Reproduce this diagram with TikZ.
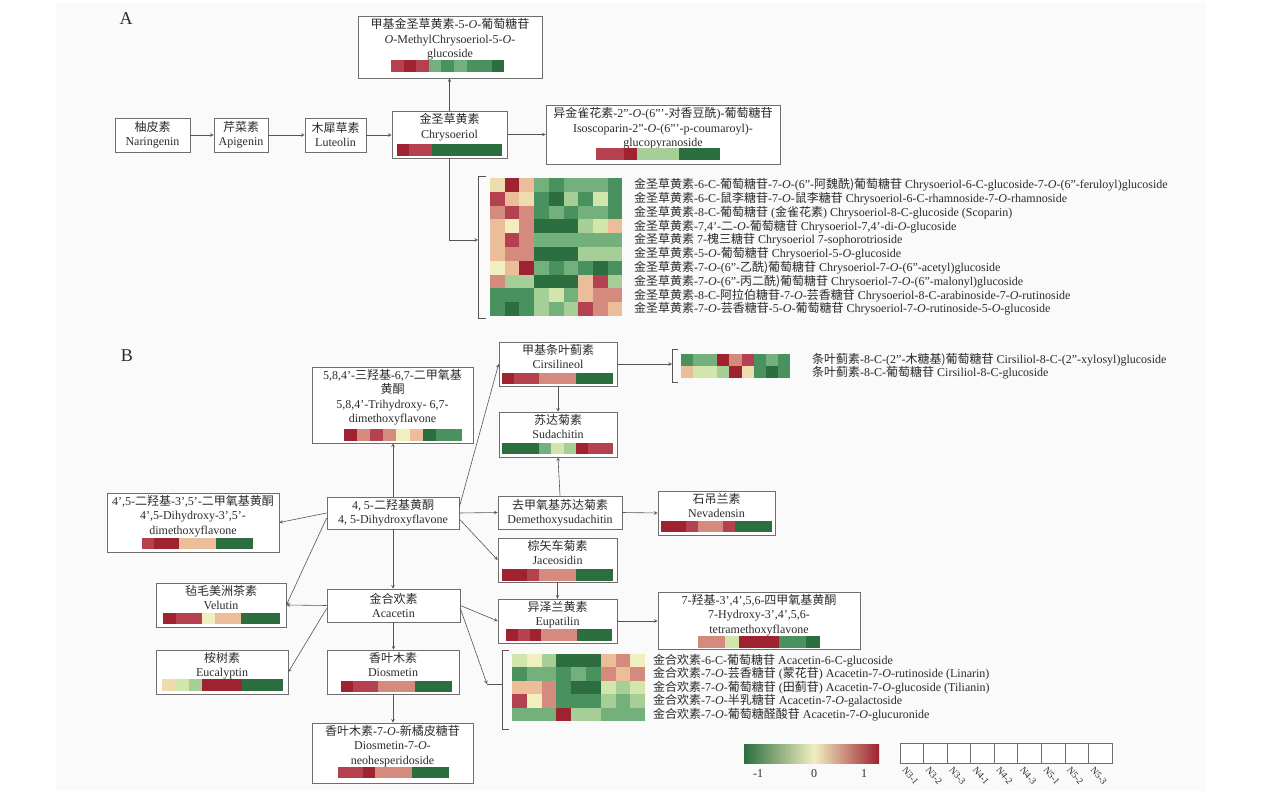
\documentclass[tikz,border=0pt]{standalone}
\usepackage{fontspec}
\setmainfont{Liberation Serif}
\newfontfamily\cjk{Noto Sans CJK SC}
\usetikzlibrary{arrows}

\newcommand{\zh}[1]{{\cjk #1}}
\newcommand{\io}{\textit{O}}

% heat map colours
\definecolor{R3}{HTML}{9E2230}
\definecolor{R2}{HTML}{B5404F}
\definecolor{R1}{HTML}{D58A7E}
\definecolor{R0}{HTML}{EBBD98}
\definecolor{P}{HTML}{EFDCAE}
\definecolor{Y}{HTML}{F1EEC0}
\definecolor{G0}{HTML}{D2E6AC}
\definecolor{G1}{HTML}{A6CF98}
\definecolor{G2}{HTML}{74B07C}
\definecolor{G3}{HTML}{4A9160}
\definecolor{G4}{HTML}{2D6E40}
\definecolor{panelbg}{HTML}{FAFAFA}
\definecolor{boxgray}{HTML}{6E6E6E}
\definecolor{linegray}{HTML}{555555}
\definecolor{txtgray}{HTML}{2B2B2B}

% one row of coloured cells: x, y, cell width, cell height, colours
\newcommand{\cellbar}[5]{%
  \foreach \cl [count=\i from 0] in {#5}
    \fill[\cl] ({#1+\i*#3},#2) rectangle ++(#3,#4);}
% compound box, text centred
\newcommand{\cpdbox}[6]{%
  \node[box, minimum width={#4-#2}, minimum height={#5-#3}] (#1)
    at ({(#2+#4)/2},{(#3+#5)/2}) {#6};}
% compound box, text on top and a bar below
\newcommand{\barbox}[6]{%
  \node[box, minimum width={#4-#2}, minimum height={#5-#3}] (#1)
    at ({(#2+#4)/2},{(#3+#5)/2}) {};
  \node[boxtext, anchor=north] (#1-t) at ([yshift=-1.5pt]#1.north) {#6};}

\begin{document}
\begin{tikzpicture}[
    x=1pt, y=-1pt,
    box/.style={draw=boxgray, line width=0.7pt, fill=white, inner sep=0pt,
      align=center, text=txtgray, font=\fontsize{12}{14}\selectfont},
    boxtext/.style={align=center, inner sep=1pt, text=txtgray,
      font=\fontsize{12}{14.5}\selectfont},
    hmlabel/.style={anchor=west, inner sep=0pt, text=txtgray,
      font=\fontsize{12}{13}\selectfont},
    panel/.style={font=\fontsize{18}{18}\selectfont, text=txtgray},
    flow/.style={draw=linegray, line width=0.6pt, ->},
    bracket/.style={draw=linegray, line width=0.6pt},
    >=stealth
  ]
  \useasboundingbox (0,0) rectangle (1283,791);
  \fill[white] (0,0) rectangle (1283,791);
  \fill[panelbg] (56,3) rectangle (1206,791);

  %% ---------------- A ----------------
  \node[panel] (lblA) at (126,19) {A};

  \cpdbox{nar}{115}{118}{190}{152}{\zh{柚皮素}\\Naringenin}
  \cpdbox{api}{214}{118}{268}{152}{\zh{芹菜素}\\Apigenin}
  \cpdbox{lut}{305}{118}{366}{152}{\zh{木犀草素}\\Luteolin}
  \barbox{chry}{392}{111}{507}{158}{\zh{金圣草黄素}\\Chrysoeriol}
  \cellbar{397}{144}{11.7}{12}{R3,R2,R2,G4,G4,G4,G4,G4,G4}
  \barbox{mchry}{358}{16}{542}{78}{\zh{甲基金圣草黄素}-5-\io-\zh{葡萄糖苷}\\\io-MethylChrysoeriol-5-\io-\\glucoside}
  \cellbar{391}{60}{12.6}{12}{R2,R3,R2,G2,G3,G2,G3,G3,G4}
  \barbox{iso}{546}{105}{780}{164}{\zh{异金雀花素}-2"-\io-(6'''-\zh{对香豆酰})-\zh{葡萄糖苷}\\Isoscoparin-2"-\io-(6'''-p-coumaroyl)-\\glucopyranoside}
  \cellbar{596}{148}{13.8}{12}{R2,R2,R3,G1,G1,G1,G4,G4,G4}

  % chrysoeriol glycosides
  \cellbar{490}{178}{14.7}{13.8}{P,R3,R0,G2,G3,G2,G2,G2,G3}
  \cellbar{490}{191.8}{14.7}{13.8}{R2,R0,P,G3,G4,G1,G3,G0,G3}
  \cellbar{490}{205.6}{14.7}{13.8}{R1,R2,R1,G3,G2,G3,G2,G2,G3}
  \cellbar{490}{219.4}{14.7}{13.8}{R0,Y,R1,G4,G4,G4,G1,G0,R0}
  \cellbar{490}{233.2}{14.7}{13.8}{R0,R2,R1,G2,G2,G2,G2,G2,G2}
  \cellbar{490}{247}{14.7}{13.8}{R0,R1,R1,G4,G4,G4,G1,G1,G1}
  \cellbar{490}{260.8}{14.7}{13.8}{Y,R0,R3,G2,G3,G2,G3,G4,G3}
  \cellbar{490}{274.6}{14.7}{13.8}{R1,G1,G1,G4,G4,G4,R0,R2,G1}
  \cellbar{490}{288.4}{14.7}{13.8}{G3,G3,G3,G1,G0,G2,R0,R1,R1}
  \cellbar{490}{302.2}{14.7}{13.8}{G3,G4,G3,G1,G2,G1,R2,R1,R0}
  \foreach \t [count=\i from 0] in {
      {\zh{金圣草黄素}-6-C-\zh{葡萄糖苷}-7-\io-(6"-\zh{阿魏酰)葡萄糖苷} Chrysoeriol-6-C-glucoside-7-\io-(6"-feruloyl)glucoside},
      {\zh{金圣草黄素}-6-C-\zh{鼠李糖苷}-7-\io-\zh{鼠李糖苷} Chrysoeriol-6-C-rhamnoside-7-\io-rhamnoside},
      {\zh{金圣草黄素}-8-C-\zh{葡萄糖苷} (\zh{金雀花素}) Chrysoeriol-8-C-glucoside (Scoparin)},
      {\zh{金圣草黄素}-7,4'-\zh{二}-\io-\zh{葡萄糖苷} Chrysoeriol-7,4'-di-\io-glucoside},
      {\zh{金圣草黄素} 7-\zh{槐三糖苷} Chrysoeriol 7-sophorotrioside},
      {\zh{金圣草黄素}-5-\io-\zh{葡萄糖苷} Chrysoeriol-5-\io-glucoside},
      {\zh{金圣草黄素}-7-\io-(6"-\zh{乙酰)葡萄糖苷} Chrysoeriol-7-\io-(6"-acetyl)glucoside},
      {\zh{金圣草黄素}-7-\io-(6"-\zh{丙二酰)葡萄糖苷} Chrysoeriol-7-\io-(6"-malonyl)glucoside},
      {\zh{金圣草黄素}-8-C-\zh{阿拉伯糖苷}-7-\io-\zh{芸香糖苷} Chrysoeriol-8-C-arabinoside-7-\io-rutinoside},
      {\zh{金圣草黄素}-7-\io-\zh{芸香糖苷}-5-\io-\zh{葡萄糖苷} Chrysoeriol-7-\io-rutinoside-5-\io-glucoside}}
    \node[hmlabel] (la\i) at (634,{184.9+\i*13.8}) {\t};
  \draw[bracket] (486,176) -- (478,176) -- (478,318) -- (486,318);
  \coordinate (brA) at (478,240);

  \draw[flow] (nar) -- (api);
  \draw[flow] (api) -- (lut);
  \draw[flow] (lut.east) -- (lut.east -| chry.west);
  \draw[flow] (chry.east) -- (chry.east -| iso.west);
  \draw[flow] (chry.north) -- (chry.north |- mchry.south);
  \draw[flow] (chry.south) |- (brA);

  %% ---------------- B ----------------
  \node[panel] (lblB) at (127,356) {B};

  \cpdbox{dhf}{327}{497}{459}{529}{4, 5-\zh{二羟基黄酮}\\4, 5-Dihydroxyflavone}
  \cpdbox{aca}{327}{589}{460}{622}{\zh{金合欢素}\\Acacetin}
  \cpdbox{dms}{498}{496}{622}{529}{\zh{去甲氧基苏达菊素}\\Demethoxysudachitin}

  \barbox{tri}{312}{367}{473}{443}{5,8,4'-\zh{三羟基}-6,7-\zh{二甲氧基}\\\zh{黄酮}\\5,8,4'-Trihydroxy- 6,7-\\dimethoxyflavone}
  \cellbar{344}{429}{13.1}{12}{R3,R1,R2,R1,Y,R0,G4,G3,G3}
  \barbox{dih}{107}{493}{279}{552}{4',5-\zh{二羟基}-3',5'-\zh{二甲氧基黄酮}\\4',5-Dihydroxy-3',5'-\\dimethoxyflavone}
  \cellbar{142}{538}{12.3}{11}{R2,R3,R3,R0,R0,R0,G4,G4,G4}
  \barbox{vel}{156}{583}{286}{627}{\zh{毡毛美洲茶素}\\Velutin}
  \cellbar{163}{613}{13}{11}{R3,R2,R2,Y,R0,R0,G4,G4,G4}
  \barbox{euc}{156}{650}{288}{694}{\zh{桉树素}\\Eucalyptin}
  \cellbar{162}{679}{13.4}{12}{P,G0,G1,R3,R3,R3,G4,G4,G4}
  \barbox{dio}{327}{650}{459}{694}{\zh{香叶木素}\\Diosmetin}
  \cellbar{341}{681}{12.3}{11}{R3,R2,R2,R1,R1,R1,G4,G4,G4}
  \barbox{neo}{312}{723}{473}{783}{\zh{香叶木素}-7-\io-\zh{新橘皮糖苷}\\Diosmetin-7-\io-\\neohesperidoside}
  \cellbar{338}{767}{12.3}{11}{R2,R2,R3,R1,R1,R1,G4,G4,G4}
  \barbox{cir}{499}{342}{617}{386}{\zh{甲基条叶蓟素}\\Cirsilineol}
  \cellbar{502}{373}{12.3}{11}{R3,R2,R2,R1,R1,R1,G4,G4,G4}
  \barbox{sud}{499}{412}{617}{457}{\zh{苏达菊素}\\Sudachitin}
  \cellbar{502}{443}{12.3}{11}{G4,G4,G4,G2,G0,G1,R3,R2,R2}
  \barbox{nev}{658}{491}{775}{535}{\zh{石吊兰素}\\Nevadensin}
  \cellbar{661}{521}{12.3}{11}{R3,R3,R2,R1,R1,R2,G4,G4,G4}
  \barbox{jac}{498}{538}{617}{582}{\zh{棕矢车菊素}\\Jaceosidin}
  \cellbar{502}{569}{12.3}{12}{R3,R3,R2,R1,R1,R1,G4,G4,G4}
  \barbox{eup}{498}{599}{617}{643}{\zh{异泽兰黄素}\\Eupatilin}
  \cellbar{506}{629}{11.8}{12}{R3,R2,R3,R1,R1,R1,G4,G4,G4}
  \barbox{thm}{658}{592}{860}{649}{7-\zh{羟基}-3',4',5,6-\zh{四甲氧基黄酮}\\7-Hydroxy-3',4',5,6-\\tetramethoxyflavone}
  \cellbar{698}{636}{13.5}{12}{R1,R1,G0,R3,R3,R3,G3,G3,G4}

  % cirsiliol glycosides
  \cellbar{681}{354}{12.1}{12}{G3,G2,G2,R3,R1,R2,G3,G2,G3}
  \cellbar{681}{366}{12.1}{12}{R0,G0,G0,G1,R3,P,G3,G4,G3}
  \node[hmlabel] (lc0) at (812,360) {\zh{条叶蓟素}-8-C-(2"-\zh{木糖基)葡萄糖苷} Cirsiliol-8-C-(2"-xylosyl)glucoside};
  \node[hmlabel] (lc1) at (812,373) {\zh{条叶蓟素}-8-C-\zh{葡萄糖苷} Cirsiliol-8-C-glucoside};
  \draw[bracket] (678,349) -- (672,349) -- (672,382) -- (678,382);
  \coordinate (brB1) at (672,364);

  % acacetin glycosides
  \cellbar{512}{654}{14.8}{13.4}{G0,Y,G1,G4,G4,G4,R0,R1,Y}
  \cellbar{512}{667.4}{14.8}{13.4}{G3,G2,G2,G3,G2,G3,R1,R0,R1}
  \cellbar{512}{680.8}{14.8}{13.4}{R0,R0,R1,G3,G4,G4,G0,G1,G0}
  \cellbar{512}{694.2}{14.8}{13.4}{R2,Y,R1,G3,G3,G3,G1,G2,G1}
  \cellbar{512}{707.6}{14.8}{13.4}{G2,G2,G2,R3,G1,G1,G2,G2,G2}
  \foreach \t [count=\i from 0] in {
      {\zh{金合欢素}-6-C-\zh{葡萄糖苷} Acacetin-6-C-glucoside},
      {\zh{金合欢素}-7-\io-\zh{芸香糖苷} (\zh{蒙花苷}) Acacetin-7-\io-rutinoside (Linarin)},
      {\zh{金合欢素}-7-\io-\zh{葡萄糖苷} (\zh{田蓟苷}) Acacetin-7-\io-glucoside (Tilianin)},
      {\zh{金合欢素}-7-\io-\zh{半乳糖苷} Acacetin-7-\io-galactoside},
      {\zh{金合欢素}-7-\io-\zh{葡萄糖醛酸苷} Acacetin-7-\io-glucuronide}}
    \node[hmlabel] (lb\i) at (653,{660.7+\i*13.4}) {\t};
  \draw[bracket] (509,650) -- (502,650) -- (502,729) -- (509,729);
  \coordinate (brB2) at (502,684);
  \coordinate (knee) at (487,684);

  % connect the compounds
  \draw[flow] (dhf.north) -- (dhf.north |- tri.south);
  \draw[flow] (dhf.west) -- (dih.east);
  \draw[flow] ([yshift=-5pt]dhf.west) -- (vel.east);
  \draw[flow] (dhf.south) -- (dhf.south |- aca.north);
  \draw[flow] ([yshift=6pt]dhf.east) -- (cir.west);
  \draw[flow] (dhf.east) -- (dms.west);
  \draw[flow] ([yshift=-6pt]dhf.east) -- (jac.west);
  \draw[flow] (cir.south) -- (cir.south |- sud.north);
  \draw[flow] (dms.north) -- (sud.south);
  \draw[flow] (dms.east) -- (nev.west);
  \draw[flow] (jac.south) -- (jac.south |- eup.north);
  \draw[flow] (eup.east) -- (eup.east -| thm.west);
  \draw[flow] (cir.east) -- (brB1);
  \draw[flow] (aca.west) -- (vel.east);
  \draw[flow] ([yshift=-3pt]aca.west) -- (euc.east);
  \draw[flow] (aca.south) -- (aca.south |- dio.north);
  \draw[flow] (dio.south) -- (dio.south |- neo.north);
  \draw[flow] (aca.east) -- (eup.west);
  \draw[flow] ([yshift=-3pt]aca.east) -- (knee);
  \draw[bracket] (knee) -- (brB2);

  %% ---------------- legend ----------------
  \shade[left color=G4, right color=Y] (744,744) rectangle (814,763);
  \shade[left color=Y, right color=R3] (814,744) rectangle (879,763);
  \node[hmlabel, anchor=center] (tk1) at (758,774) {-1};
  \node[hmlabel, anchor=center] (tk2) at (814,774) {0};
  \node[hmlabel, anchor=center] (tk3) at (864,774) {1};
  \foreach \n [count=\i from 0] in {N3-1,N3-2,N3-3,N4-1,N4-2,N4-3,N5-1,N5-2,N5-3} {
    \draw[draw=boxgray, line width=0.7pt, fill=white] ({900+\i*23.55},743) rectangle ++(23.55,20);
    \node[hmlabel, font=\fontsize{9.5}{10}\selectfont, rotate=-50] (smp\i) at ({904+\i*23.55},768) {\n};
  }
\end{tikzpicture}
\end{document}
